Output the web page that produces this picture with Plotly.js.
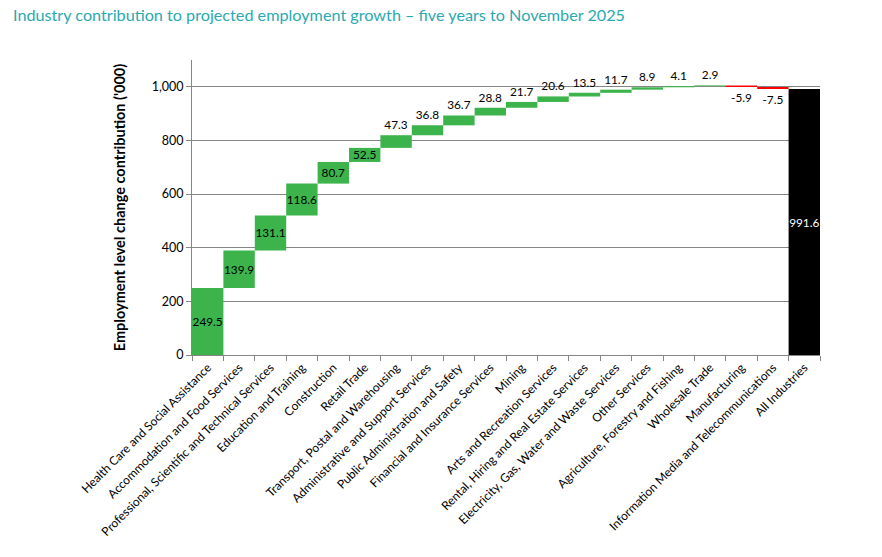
<!DOCTYPE html>
<html>
<head>
<meta charset="utf-8">
<script src="https://cdn.plot.ly/plotly-3.0.1.min.js"></script>
<style>html,body{margin:0;padding:0;background:#fff;}#chart{width:882px;height:557px;}</style>
</head>
<body>
<div id="chart"></div>
<script>
const industries = [
  "Health Care and Social Assistance",
  "Accommodation and Food Services",
  "Professional, Scientific and Technical Services",
  "Education and Training",
  "Construction",
  "Retail Trade",
  "Transport, Postal and Warehousing",
  "Administrative and Support Services",
  "Public Administration and Safety",
  "Financial and Insurance Services",
  "Mining",
  "Arts and Recreation Services",
  "Rental, Hiring and Real Estate Services",
  "Electricity, Gas, Water and Waste Services",
  "Other Services",
  "Agriculture, Forestry and Fishing",
  "Wholesale Trade",
  "Manufacturing",
  "Information Media and Telecommunications",
  "All Industries"
];
const contributions = [249.5, 139.9, 131.1, 118.6, 80.7, 52.5, 47.3, 36.8, 36.7, 28.8, 21.7, 20.6, 13.5, 11.7, 8.9, 4.1, 2.9, -5.9, -7.5, 991.6];
const measures = ["relative","relative","relative","relative","relative","relative","relative","relative","relative","relative","relative","relative","relative","relative","relative","relative","relative","relative","relative","absolute"];
const yTickVals = [0, 200, 400, 600, 800, 1000];
const yTickText = ["0", "200", "400", "600", "800", "1,000"];

const FONT = "Lato, 'Open Sans', sans-serif";
const labels = contributions.map(v => v.toFixed(1));
const textPos = contributions.map((v, i) => (i === contributions.length - 1 || v >= 50) ? "inside" : "outside");
const textColors = contributions.map((v, i) => i === contributions.length - 1 ? "#ffffff" : "#000000");

const trace = {
  type: "waterfall",
  x: industries,
  y: contributions,
  measure: measures,
  text: labels,
  textposition: textPos,
  textinfo: "text",
  textangle: 0,
  insidetextanchor: "middle",
  textfont: {family: FONT, size: 11.8, color: textColors},
  insidetextfont: {family: FONT, size: 11.8, color: textColors},
  outsidetextfont: {family: FONT, size: 11.8, color: "#000000"},
  constraintext: "none",
  cliponaxis: false,
  increasing: {marker: {color: "#3cb44b", line: {width: 0}}},
  decreasing: {marker: {color: "#ff0000", line: {width: 0}}},
  totals: {marker: {color: "#000000", line: {width: 0}}},
  connector: {visible: false},
  hoverinfo: "skip"
};

const layout = {
  width: 882,
  height: 557,
  margin: {l: 192, r: 62, t: 60, b: 202},
  paper_bgcolor: "#ffffff",
  plot_bgcolor: "#ffffff",
  showlegend: false,
  waterfallgap: 0,
  font: {family: FONT, color: "#000000"},
  title: {
    text: "Industry contribution to projected employment growth – five years to November 2025",
    x: 13 / 882, xref: "container", xanchor: "left",
    y: 1 - 15 / 557, yref: "container", yanchor: "middle",
    font: {family: FONT, size: 16.2, color: "#2aa9b0"}
  },
  xaxis: {
    type: "category",
    tickangle: -45,
    tickson: "boundaries",
    ticks: "outside",
    ticklen: 5,
    tickcolor: "#868686",
    showline: true,
    linecolor: "#868686",
    linewidth: 1,
    showgrid: false,
    tickfont: {family: FONT, size: 12, color: "#000000"},
    automargin: false
  },
  yaxis: {
    range: [0, 1100],
    tickvals: yTickVals,
    ticktext: yTickText,
    ticks: "outside",
    ticklen: 5,
    tickcolor: "#868686",
    showline: true,
    linecolor: "#868686",
    linewidth: 1,
    showgrid: true,
    gridcolor: "#868686",
    gridwidth: 1,
    zeroline: false,
    tickfont: {family: FONT, size: 12.5, color: "#000000"},
    title: {
      text: "<b>Employment level change contribution ('000)</b>",
      font: {family: FONT, size: 14.5, color: "#000000"},
      standoff: 22
    },
    automargin: false
  }
};

Plotly.newPlot("chart", [trace], layout, {displayModeBar: false, staticPlot: true});
</script>
</body>
</html>
